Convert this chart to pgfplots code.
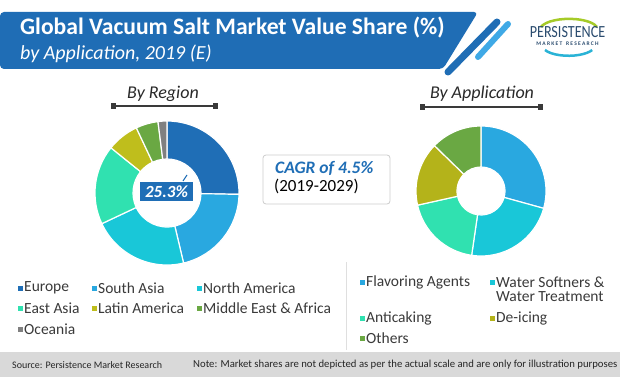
\documentclass[border=0pt]{standalone}
\usepackage{pgfplots}
\pgfplotsset{compat=1.18}
\usepackage{pgfplotstable}
\usepackage{fontspec}
\setmainfont{Carlito}
\definecolor{cEU}{HTML}{1F6EB6}
\definecolor{cSA}{HTML}{29A8E0}
\definecolor{cNA}{HTML}{19C7D8}
\definecolor{cEA}{HTML}{30E1B0}
\definecolor{cLA}{HTML}{BFBE1C}
\definecolor{cME}{HTML}{6AA843}
\definecolor{cOC}{HTML}{808080}
\definecolor{cDI}{HTML}{B4B31A}
\definecolor{banner}{HTML}{1F6DB5}
\definecolor{lightstripe}{HTML}{3FA9E6}
\definecolor{txt}{HTML}{3A3A3A}
\definecolor{logoblue}{HTML}{2B4C6F}

\pgfplotstableread{
share col
25.3 cEU
21.0 cSA
21.7 cNA
17.8 cEA
7.2 cLA
5.0 cME
2.0 cOC
}\regiontable

\pgfplotstableread{
share col
29.3 cSA
23.0 cNA
19.2 cEA
15.8 cDI
12.7 cME
}\apptable

\newcommand\drawdonut[3]{%
  \pgfplotstablegetrowsof{#1}%
  \pgfmathtruncatemacro\nrows{\pgfplotsretval-1}%
  \gdef\cum{0}%
  \pgfplotsforeachungrouped \i in {0,...,\nrows}{%
    \pgfplotstablegetelem{\i}{share}\of{#1}\let\val\pgfplotsretval
    \pgfplotstablegetelem{\i}{col}\of{#1}\let\colr\pgfplotsretval
    \pgfmathsetmacro\aS{90-3.6*\cum}%
    \pgfmathsetmacro\aE{90-3.6*(\cum+\val)}%
    \pgfmathsetmacro\newcum{\cum+\val}\global\let\cum\newcum
    \pgfmathsetmacro\xa{#2*cos(\aS)}\pgfmathsetmacro\ya{#2*sin(\aS)}%
    \pgfmathsetmacro\xb{#3*cos(\aE)}\pgfmathsetmacro\yb{#3*sin(\aE)}%
    \edef\tmp{\noexpand\fill[\colr, draw=white, line width=1.2pt, line join=round]
      (axis cs:\xa,\ya) arc[start angle=\aS, end angle=\aE, radius=#2pt]
      -- (axis cs:\xb,\yb) arc[start angle=\aE, end angle=\aS, radius=#3pt] -- cycle;}%
    \tmp
  }%
}

\begin{document}
\begin{tikzpicture}[x=1pt,y=1pt]
\path[use as bounding box] (0,0) rectangle (620,-377);
\fill[white] (0,0) rectangle (620,-377);

% header banner
\fill[banner, rounded corners=4pt] (0,-12) -- (478,-12) -- (443,-69) -- (0,-69) -- cycle;
\draw[white, line width=10pt, line cap=round] (497,-22) -- (448,-72);
\draw[banner, line width=7pt, line cap=round] (497,-22) -- (448,-72);
\draw[lightstripe, line width=6pt, line cap=round] (508,-24) -- (478,-57);
\node[anchor=base west, white, font=\fontsize{23.6}{24}\selectfont\bfseries, inner sep=0] at (20,-35) {Global Vacuum Salt Market Value Share (\%)};
\node[anchor=base west, white, font=\fontsize{20}{21}\selectfont\itshape, inner sep=0] at (20,-60) {by Application, 2019 (E)};

% logo
\draw[line width=2.5pt, color=cME!60!yellow] (541,-27) arc[start angle=165, end angle=15, x radius=29, y radius=11];
\draw[line width=2.5pt, color=cSA!80!cEA] (545,-50) arc[start angle=205, end angle=335, x radius=26, y radius=10];
\node[logoblue, font=\fontsize{17}{17}\selectfont, xscale=0.83, inner sep=0] at (567.5,-32) {PERSISTENCE};
\node[logoblue, font=\fontsize{5.5}{6}\selectfont\bfseries, inner sep=0] at (567.5,-44) {M A R K E T\ \ \ R E S E A R C H};

% section titles
\node[txt!70!black, font=\fontsize{18}{18}\selectfont\itshape, anchor=base, inner sep=0] at (163,-99) {By Region};
\draw[txt, line width=1pt] (113,-106) -- (215,-106);
\fill[txt] (110.5,-108.5) rectangle (115.5,-103.5);
\fill[txt] (212.5,-108.5) rectangle (217.5,-103.5);
\node[txt!70!black, font=\fontsize{18}{18}\selectfont\itshape, anchor=base, inner sep=0] at (482,-99) {By Application};
\draw[txt, line width=1pt] (422,-107) -- (540,-107);
\fill[txt] (419.5,-109.5) rectangle (424.5,-104.5);
\fill[txt] (537.5,-109.5) rectangle (542.5,-104.5);

% donuts
\begin{axis}[at={(167pt,-193pt)}, anchor=center, x=1pt, y=1pt, scale only axis, hide axis,
  xmin=-75, xmax=75, ymin=-75, ymax=75, clip=false]
  \drawdonut{\regiontable}{72}{34}
\end{axis}
\begin{axis}[at={(481pt,-191pt)}, anchor=center, x=1pt, y=1pt, scale only axis, hide axis,
  xmin=-70, xmax=70, ymin=-70, ymax=70, clip=false]
  \drawdonut{\apptable}{65}{24}
\end{axis}

% 25.3% label
\fill[cEU] (140,-182) rectangle (193,-201);
\draw[cEU, line width=1pt] (183,-181) -- (187,-175);
\node[white, font=\fontsize{17}{17}\selectfont\bfseries\itshape, inner sep=0] at (166.5,-191.5) {25.3\%};

% CAGR box
\draw[gray!40, line width=0.8pt, rounded corners=3pt] (263,-155) rectangle (390,-204);
\node[anchor=base west, cEU, font=\fontsize{17.5}{18}\selectfont\bfseries\itshape, inner sep=0] at (275,-173) {CAGR of 4.5\%};
\node[anchor=base west, black, font=\fontsize{17}{17}\selectfont, inner sep=0] at (274,-191) {(2019-2029)};

% separators
\draw[gray!25, line width=0.8pt] (346,-262) -- (346,-350);

% left legend
\newcommand\legitem[4]{%
  \fill[#3] (#1-2.5,#2-2.5) rectangle (#1+2.5,#2+2.5);
  \node[anchor=west, txt, font=\fontsize{15.5}{15.5}\selectfont, inner sep=0] at (#1+4,#2) {#4};}
\legitem{20}{-288}{cEU}{Europe}
\legitem{94}{-288}{cSA}{South Asia}
\legitem{199}{-288}{cNA}{North America}
\legitem{20}{-308}{cEA}{East Asia}
\legitem{94}{-308}{cLA}{Latin America}
\legitem{199}{-308}{cME}{Middle East \& Africa}
\legitem{20}{-329}{cOC}{Oceania}

% right legend
\legitem{362}{-282}{cSA}{Flavoring Agents}
\legitem{492}{-282}{cNA}{Water Softners \&}
\node[anchor=west, txt, font=\fontsize{15.5}{15.5}\selectfont, inner sep=0] at (496,-297) {Water Treatment};
\legitem{362}{-318}{cEA}{Anticaking}
\legitem{492}{-318}{cDI}{De-icing}
\legitem{362}{-338}{cME}{Others}

% footer
\fill[gray!30] (0,-352) rectangle (620,-377);
\node[anchor=west, black!85, font=\fontsize{10}{10}\selectfont, inner sep=0] at (12,-365) {Source: Persistence Market Research};
\node[anchor=west, black!85, font=\fontsize{10.7}{11}\selectfont, inner sep=0] at (193,-365) {Note: Market shares are not depicted as per the actual scale and are only for illustration purposes};
\end{tikzpicture}
\end{document}
